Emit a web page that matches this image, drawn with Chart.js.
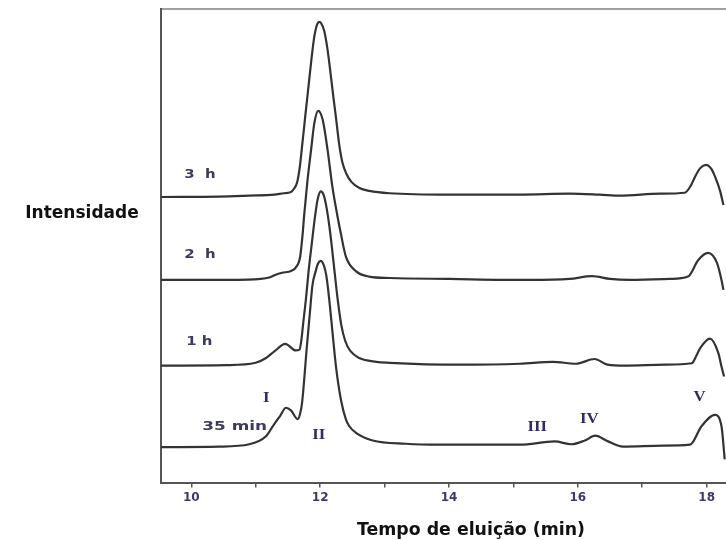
<!DOCTYPE html>
<html lang="pt">
<head>
<meta charset="UTF-8">
<title>Cromatogramas</title>
<script src="https://cdn.jsdelivr.net/npm/chart.js"></script>
<style>
  body {
    margin: 0;
    background: #ffffff;
    overflow: hidden;
  }
  canvas {
    display: block;
  }
</style>
</head>
<body>
<canvas id="cromatograma" width="726" height="540"></canvas>
<script>
// Tempos de eluição (min) e sinal de cada cromatograma (unidades arbitrárias)
const tempo3h = [9.53, 10.43, 10.90, 11.29, 11.44, 11.54, 11.597, 11.643, 11.683, 11.722, 11.768, 11.815, 11.862, 11.909, 11.955, 11.986, 12.016, 12.063, 12.109, 12.156, 12.204, 12.250, 12.297, 12.344, 12.407, 12.485, 12.610, 12.764, 13.075, 14.01, 15.10, 15.87, 16.34, 16.65, 17.28, 17.66, 17.75, 17.82, 17.90, 17.99, 18.07, 18.13, 18.21, 18.26];
const sinal3h = [60.3, 60.4, 60.6, 60.8, 61.1, 61.3, 62.1, 63.4, 66.5, 71.3, 77.2, 83.1, 89.0, 94.1, 96.8, 97.3, 97.0, 95.4, 92.0, 87.1, 81.6, 76.6, 71.3, 67.7, 65.2, 63.5, 62.2, 61.6, 61.1, 60.8, 60.8, 61.0, 60.8, 60.6, 61.0, 61.2, 62.6, 64.6, 66.4, 67.1, 66.3, 64.6, 61.5, 58.6];

const tempo2h = [9.53, 10.59, 11.08, 11.21, 11.31, 11.41, 11.55, 11.62, 11.69, 11.73, 11.75, 11.80, 11.86, 11.91, 11.97, 12.04, 12.115, 12.19, 12.27, 12.32, 12.40, 12.56, 12.76, 13.08, 14.01, 15.25, 15.87, 16.22, 16.50, 16.81, 17.43, 17.71, 17.87, 18.02, 18.16, 18.23, 18.26];
const sinal2h = [42.8, 42.8, 43.0, 43.3, 43.9, 44.3, 44.7, 45.4, 47.7, 52.7, 56.1, 63.3, 70.3, 75.9, 78.5, 76.6, 70.3, 62.5, 56.2, 52.7, 47.7, 44.6, 43.5, 43.2, 43.0, 42.8, 43.0, 43.6, 43.0, 42.8, 43.0, 43.5, 47.0, 48.5, 46.4, 42.8, 40.7];

const tempo1h = [9.53, 10.54, 11.00, 11.16, 11.29, 11.46, 11.62, 11.68, 11.71, 11.74, 11.78, 11.82, 11.87, 11.92, 11.96, 12.01, 12.056, 12.103, 12.157, 12.211, 12.266, 12.328, 12.390, 12.468, 12.608, 12.873, 13.075, 14.16, 15.10, 15.61, 15.97, 16.26, 16.46, 16.73, 17.35, 17.77, 17.84, 17.90, 18.05, 18.18, 18.23, 18.27];
const sinal1h = [24.7, 24.8, 25.3, 26.3, 27.7, 29.3, 27.9, 28.1, 30.2, 34.0, 38.8, 44.5, 50.4, 56.1, 59.7, 61.5, 60.7, 57.8, 52.7, 46.2, 39.4, 33.3, 29.9, 27.8, 26.3, 25.5, 25.3, 24.9, 25.1, 25.5, 25.1, 26.1, 24.9, 24.7, 24.9, 25.2, 26.8, 28.4, 30.4, 27.4, 24.5, 22.4];

const tempo35 = [9.53, 10.43, 10.90, 11.16, 11.27, 11.38, 11.47, 11.55, 11.65, 11.69, 11.72, 11.75, 11.79, 11.84, 11.88, 11.93, 11.97, 12.01, 12.056, 12.095, 12.142, 12.193, 12.246, 12.323, 12.401, 12.453, 12.557, 12.815, 13.33, 13.85, 15.10, 15.64, 15.90, 16.11, 16.27, 16.47, 16.70, 17.32, 17.74, 17.92, 18.13, 18.23, 18.28];
const sinal35 = [7.5, 7.6, 8.1, 9.8, 12.0, 14.1, 15.8, 15.2, 13.4, 14.6, 16.9, 21.3, 28.1, 35.7, 41.6, 44.6, 46.3, 46.8, 45.9, 43.8, 38.6, 31.6, 24.5, 17.5, 13.3, 11.9, 10.5, 8.9, 8.2, 8.0, 8.0, 8.7, 8.1, 8.9, 9.9, 8.7, 7.6, 7.8, 8.0, 11.9, 14.3, 11.9, 4.9];

// Rótulos de cada curva (posição em min / intensidade)
const nomesCurvas = ['3  h', '2  h', '1 h', '35 min'];
const curvaX = [9.89, 9.89, 9.92, 10.17];
const curvaY = [65.0, 48.1, 29.8, 11.8];

// Picos identificados
const nomesPicos = ['I', 'II', 'III', 'IV', 'V'];
const picoX = [11.165, 11.98, 15.37, 16.18, 17.89];
const picoY = [17.7, 9.9, 11.6, 13.3, 17.9];

const xMin = 9.53;
const xMax = 18.30;

function pontos(tempos, sinais) {
  return tempos.map((t, i) => ({ x: t, y: sinais[i] }));
}

function serie(nome, tempos, sinais) {
  return {
    label: nome,
    data: pontos(tempos, sinais),
    borderColor: '#333333',
    borderWidth: 2.2,
    pointRadius: 0,
    fill: false,
    cubicInterpolationMode: 'monotone'
  };
}

// texto com leve alongamento horizontal
function texto(ctx, txt, px, py, esticar) {
  ctx.save();
  ctx.translate(px, py);
  ctx.scale(esticar, 1);
  ctx.fillText(txt, 0, 0);
  ctx.restore();
}

const rotulos = {
  id: 'rotulos',
  afterDraw(chart) {
    const ctx = chart.ctx;
    const sx = chart.scales.x;
    const sy = chart.scales.y;
    ctx.save();
    ctx.textBaseline = 'middle';

    ctx.fillStyle = '#3b3b5c';
    ctx.font = 'bold 13px "DejaVu Sans"';
    ctx.textAlign = 'left';
    nomesCurvas.forEach((txt, i) => {
      const esticar = txt.length > 4 ? 1.3 : 1.15;
      texto(ctx, txt, sx.getPixelForValue(curvaX[i]), sy.getPixelForValue(curvaY[i]), esticar);
    });

    ctx.fillStyle = '#2e2e5e';
    ctx.font = 'bold 14px "Liberation Serif"';
    ctx.textAlign = 'center';
    nomesPicos.forEach((txt, i) => {
      texto(ctx, txt, sx.getPixelForValue(picoX[i]), sy.getPixelForValue(picoY[i]), 1.2);
    });

    // títulos dos eixos
    ctx.fillStyle = '#111111';
    ctx.font = 'bold 17px "DejaVu Sans"';
    ctx.textAlign = 'center';
    texto(ctx, 'Intensidade', 82, 214, 1);
    texto(ctx, 'Tempo de eluição (min)', 471, 531, 1.02);
    ctx.restore();
  }
};

const ctx = document.getElementById('cromatograma').getContext('2d');

new Chart(ctx, {
  type: 'line',
  data: {
    datasets: [
      serie('3 h', tempo3h, sinal3h),
      serie('2 h', tempo2h, sinal2h),
      serie('1 h', tempo1h, sinal1h),
      serie('35 min', tempo35, sinal35)
    ]
  },
  options: {
    responsive: false,
    animation: false,
    layout: {
      padding: { left: 161, right: 0, top: 9, bottom: 32 }
    },
    plugins: {
      legend: { display: false },
      tooltip: { enabled: false }
    },
    scales: {
      x: {
        type: 'linear',
        position: 'bottom',
        min: xMin,
        max: xMax,
        ticks: {
          stepSize: 1,
          includeBounds: false,
          autoSkip: false,
          maxRotation: 0,
          padding: 3,
          color: '#3a3a6e',
          font: { family: 'DejaVu Sans', weight: 'bold', size: 12 },
          callback: v => (v % 2 === 0 ? v : '')
        },
        grid: {
          drawOnChartArea: false,
          tickLength: 5,
          color: '#555555',
          lineWidth: 1.5
        },
        border: { color: '#555555', width: 2 }
      },
      xTop: {
        type: 'linear',
        position: 'top',
        min: xMin,
        max: xMax,
        ticks: { display: false },
        grid: { drawOnChartArea: false, drawTicks: false },
        border: { color: '#a0a0a0', width: 2 }
      },
      y: {
        min: 0,
        max: 100,
        ticks: { display: false },
        grid: { display: false, drawTicks: false },
        border: { color: '#555555', width: 2 }
      }
    }
  },
  plugins: [rotulos]
});
</script>
</body>
</html>
